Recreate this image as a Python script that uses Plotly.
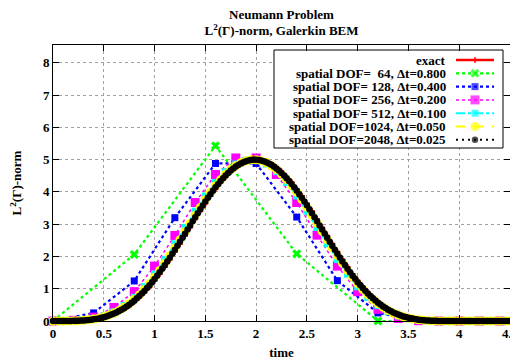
import numpy as np
import plotly.graph_objects as go

# ---------------- data ----------------
exact_vals = [
    0.000, 0.000, 0.000, 0.001, 0.003, 0.007, 0.015, 0.027, 0.046, 0.072,
    0.107, 0.154, 0.212, 0.285, 0.373, 0.476, 0.597, 0.735, 0.890, 1.062,
    1.250, 1.454, 1.672, 1.902, 2.142, 2.390, 2.643, 2.898, 3.151, 3.401,
    3.643, 3.874, 4.091, 4.290, 4.470, 4.627, 4.758, 4.863, 4.939, 4.985,
    5.000, 4.985, 4.939, 4.863, 4.758, 4.627, 4.470, 4.290, 4.091, 3.874,
    3.643, 3.401, 3.151, 2.898, 2.643, 2.390, 2.142, 1.902, 1.672, 1.454,
    1.250, 1.062, 0.890, 0.735, 0.597, 0.476, 0.373, 0.285, 0.212, 0.154,
    0.107, 0.072, 0.046, 0.027, 0.015, 0.007, 0.003, 0.001, 0.000, 0.000,
    0.000, 0.000, 0.000, 0.000, 0.000, 0.000, 0.000, 0.000, 0.000, 0.000,
    0.000]   # t = 0, 0.05, ..., 4.5

dof64_vals = [0.00, 2.06, 5.43, 2.08, 0.00, 0.00]          # dt = 0.8

dof128_vals = [0.00, 0.25, 1.24, 3.20, 4.88, 4.88, 3.22, 1.25, 0.25, 0.00,
               0.00, 0.00]                                   # dt = 0.4

dof256_vals = [0.00, 0.02, 0.12, 0.42, 0.91, 1.70, 2.65, 3.67, 4.54, 5.05,
               5.05, 4.54, 3.67, 2.66, 1.70, 0.91, 0.36, 0.08, 0.01, 0.00,
               0.00, 0.00, 0.00]                             # dt = 0.2

dof512_vals = [
    0.000, 0.001, 0.007, 0.027, 0.072, 0.154, 0.285, 0.476, 0.735, 1.062,
    1.454, 1.902, 2.390, 2.898, 3.401, 3.874, 4.290, 4.627, 4.863, 4.985,
    4.985, 4.863, 4.627, 4.290, 3.874, 3.401, 2.898, 2.390, 1.902, 1.454,
    1.062, 0.735, 0.476, 0.285, 0.154, 0.072, 0.027, 0.007, 0.001, 0.000,
    0.000, 0.000, 0.000, 0.000, 0.000, 0.000]                # dt = 0.1

dof1024_vals = [
    0.000, 0.000, 0.001, 0.002, 0.005, 0.011, 0.021, 0.036, 0.059, 0.089,
    0.130, 0.183, 0.248, 0.329, 0.424, 0.536, 0.666, 0.812, 0.976, 1.156,
    1.352, 1.563, 1.787, 2.022, 2.266, 2.516, 2.770, 3.025, 3.276, 3.522,
    3.759, 3.983, 4.191, 4.380, 4.549, 4.693, 4.811, 4.901, 4.962, 4.996,
    4.996, 4.962, 4.901, 4.811, 4.693, 4.549, 4.380, 4.191, 3.983, 3.759,
    3.522, 3.276, 3.025, 2.770, 2.516, 2.266, 2.022, 1.787, 1.563, 1.352,
    1.156, 0.976, 0.812, 0.666, 0.536, 0.424, 0.329, 0.248, 0.183, 0.130,
    0.089, 0.059, 0.036, 0.021, 0.011, 0.005, 0.002, 0.001, 0.000, 0.000,
    0.000, 0.000, 0.000, 0.000, 0.000, 0.000, 0.000, 0.000, 0.000, 0.000,
    0.000]                                                   # dt = 0.05

dof2048_vals = [
    0.000, 0.000, 0.000, 0.000, 0.000, 0.000, 0.001, 0.002, 0.004, 0.006,
    0.009, 0.013, 0.018, 0.024, 0.031, 0.041, 0.052, 0.065, 0.080, 0.098,
    0.118, 0.142, 0.168, 0.198, 0.230, 0.267, 0.307, 0.351, 0.398, 0.451,
    0.506, 0.567, 0.631, 0.701, 0.773, 0.852, 0.933, 1.020, 1.109, 1.204,
    1.301, 1.404, 1.508, 1.618, 1.729, 1.845, 1.962, 2.083, 2.204, 2.328,
    2.453, 2.579, 2.706, 2.833, 2.961, 3.087, 3.213, 3.337, 3.461, 3.581,
    3.701, 3.815, 3.928, 4.035, 4.141, 4.238, 4.335, 4.422, 4.509, 4.585,
    4.660, 4.722, 4.784, 4.833, 4.882, 4.916, 4.950, 4.973, 4.990, 5.000,
    4.999, 4.990, 4.974, 4.949, 4.920, 4.881, 4.837, 4.784, 4.726, 4.660,
    4.588, 4.509, 4.425, 4.335, 4.241, 4.141, 4.037, 3.929, 3.817, 3.702,
    3.583, 3.462, 3.339, 3.215, 3.088, 2.962, 2.834, 2.708, 2.580, 2.455,
    2.328, 2.206, 2.082, 1.965, 1.845, 1.733, 1.618, 1.512, 1.403, 1.305,
    1.203, 1.112, 1.019, 0.936, 0.851, 0.777, 0.701, 0.635, 0.567, 0.510,
    0.450, 0.402, 0.351, 0.310, 0.267, 0.234, 0.198, 0.171, 0.142, 0.121,
    0.098, 0.083, 0.066, 0.054, 0.041, 0.033, 0.024, 0.019, 0.013, 0.010,
    0.006, 0.005, 0.003, 0.002, 0.001, 0.001, 0.000, 0.000, 0.000, 0.000,
    0.000, 0.000, 0.000, 0.000, 0.000, 0.000, 0.000, 0.000, 0.000, 0.000,
    0.000, 0.000, 0.000, 0.000, 0.000, 0.000, 0.000, 0.000, 0.000, 0.000,
    0.000]                                                   # dt = 0.025

time_steps = [0.05, 0.8, 0.4, 0.2, 0.1, 0.05, 0.025]

series_names = [
    "exact",
    "spatial DOF=  64, \u0394t=0.800",
    "spatial DOF= 128, \u0394t=0.400",
    "spatial DOF= 256, \u0394t=0.200",
    "spatial DOF= 512, \u0394t=0.100",
    "spatial DOF=1024, \u0394t=0.050",
    "spatial DOF=2048, \u0394t=0.025",
]
x_ticks = [0, 0.5, 1, 1.5, 2, 2.5, 3, 3.5, 4, 4.5]
x_tick_labels = ["0", "0.5", "1", "1.5", "2", "2.5", "3", "3.5", "4", "4.5"]
y_ticks = [0, 1, 2, 3, 4, 5, 6, 7, 8]
y_tick_labels = ["0", "1", "2", "3", "4", "5", "6", "7", "8"]
X_RANGE = [0, 4.5]
Y_RANGE = [0, 8.55]

# ---------------- styles ----------------
FONT = "Liberation Serif"
styles = [
    dict(color="#ff0000", dash="solid", width=2.5, symbol="cross", size=5),
    dict(color="#00ff00", dash="dot", width=2.2, symbol="x", size=8),
    dict(color="#0000ff", dash="dot", width=2.2, symbol="square", size=7),
    dict(color="#ff00ff", dash="dot", width=1.5, symbol="square", size=9),
    dict(color="#00ffff", dash="dashdot", width=2.0, symbol="square", size=7),
    dict(color="#ffff00", dash="dash", width=2.0, symbol="circle", size=9),
    dict(color="#000000", dash="2px,4px", width=2.0, symbol="circle", size=6.5),
]
value_lists = [exact_vals, dof64_vals, dof128_vals, dof256_vals,
               dof512_vals, dof1024_vals, dof2048_vals]

fig = go.Figure()
for vals, dt, st, name in zip(value_lists, time_steps, styles, series_names):
    tx = np.round(np.arange(len(vals)) * dt, 4)
    fig.add_trace(go.Scatter(
        x=tx, y=vals, mode="lines+markers", name=name, showlegend=False,
        cliponaxis=False,
        line=dict(color=st["color"], dash=st["dash"], width=st["width"]),
        marker=dict(color=st["color"], symbol=st["symbol"], size=st["size"],
                    line=dict(width=0)),
    ))

# ---------------- geometry ----------------
# The page body has an 8px default margin, so the figure sits at (8, 8).
OFF = 8
W, H = 518 - OFF, 362 - OFF
PL, PR, PT, PB = 53, 510, 45, 321          # plot area in screen pixels
pw, ph = PR - PL, PB - PT

def px_x(px):
    return (px - PL) / pw

def px_y(py):
    return (PB - py) / ph

# ---------------- custom legend (text right-aligned, sample on the right) ----------------
row_py = [60, 73.3, 86.6, 99.9, 113.2, 126.5, 139.8]
for i, (st, name) in enumerate(zip(styles, series_names)):
    yy = px_y(row_py[i])
    fig.add_trace(go.Scatter(
        x=[px_x(456), px_x(475), px_x(494)], y=[yy, yy, yy],
        xaxis="x2", yaxis="y2", mode="lines+markers", showlegend=False,
        hoverinfo="skip", cliponaxis=False,
        line=dict(color=st["color"], dash=st["dash"], width=st["width"]),
        marker=dict(color=st["color"], symbol=st["symbol"],
                    size=[0, st["size"], 0], line=dict(width=0)),
    ))
    fig.add_annotation(
        x=px_x(448), y=yy, xref="x2", yref="y2", text=name,
        xanchor="right", yanchor="middle", showarrow=False,
        font=dict(family=FONT, size=13, color="black", weight="bold"),
    )

fig.add_shape(type="rect", xref="x", yref="y",
              x0=px_x(274) * X_RANGE[1], x1=px_x(503) * X_RANGE[1],
              y0=px_y(148) * Y_RANGE[1], y1=px_y(50) * Y_RANGE[1],
              line=dict(color="black", width=1), fillcolor="white",
              layer="between")

fig.update_layout(
    width=W, height=H,
    margin=dict(l=PL - OFF, r=W - (PR - OFF), t=PT - OFF, b=H - (PB - OFF),
                autoexpand=False),
    paper_bgcolor="white", plot_bgcolor="white",
    title=dict(
        text="Neumann Problem<br>L<sup>2</sup>(\u0393)-norm, Galerkin BEM",
        x=((PL + PR) / 2 - OFF) / W, xanchor="center",
        y=1 - (18.5 - OFF) / H, yanchor="middle",
        font=dict(family=FONT, size=13, color="black", weight="bold"),
    ),
    xaxis=dict(
        range=X_RANGE, tickvals=x_ticks, ticktext=x_tick_labels,
        automargin=False, ticklabeloverflow="allow",
        showgrid=True, gridcolor="#a0a0a0", griddash="dot", gridwidth=1,
        zeroline=False, showline=True, linecolor="black", linewidth=1,
        mirror="allticks", ticks="inside", ticklen=6, tickcolor="black",
        tickfont=dict(family=FONT, size=13, color="black", weight="bold"),
        title=dict(text="time", standoff=8,
                   font=dict(family=FONT, size=13, color="black", weight="bold")),
    ),
    yaxis=dict(
        range=Y_RANGE, tickvals=y_ticks, ticktext=y_tick_labels,
        automargin=False, ticklabeloverflow="allow",
        showgrid=True, gridcolor="#a0a0a0", griddash="dot", gridwidth=1,
        zeroline=False, showline=True, linecolor="black", linewidth=1,
        mirror="allticks", ticks="inside", ticklen=6, tickcolor="black",
        tickfont=dict(family=FONT, size=13, color="black", weight="bold"),
        title=dict(text="L<sup>2</sup>(\u0393)-norm", standoff=20,
                   font=dict(family=FONT, size=13, color="black", weight="bold")),
    ),
    xaxis2=dict(overlaying="x", range=[0, 1], visible=False, fixedrange=True),
    yaxis2=dict(overlaying="y", range=[0, 1], visible=False, fixedrange=True),
    showlegend=False,
)

fig.write_html("out.html")
